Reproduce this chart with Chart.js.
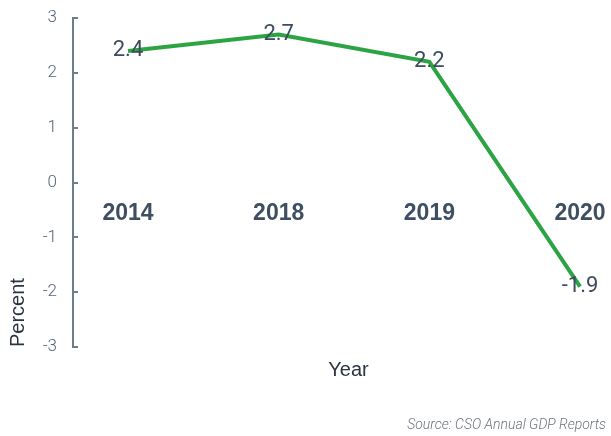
<!DOCTYPE html>
<html><head><meta charset="utf-8">
<script src="https://cdn.jsdelivr.net/npm/chart.js@4/dist/chart.umd.min.js"></script>
<style>html,body{margin:0;padding:0;background:#fff}#wrap{width:611px;height:436px}</style>
</head><body><div id="wrap"><canvas id="c" width="611" height="436"></canvas></div>
<script>
const years = ['2014', '2018', '2019', '2020'];
const growth = [2.4, 2.7, 2.2, -1.9];
const yTicks = [-3, -2, -1, 0, 1, 2, 3];
const xTitle = 'Year';
const yTitle = 'Percent';
const source = 'Source: CSO Annual GDP Reports';

const points = years.map((y, i) => ({x: i, y: growth[i]}));
const XMIN = -0.365, XMAX = 3.172;

const valueLabels = {
  id: 'valueLabels',
  afterDatasetsDraw(chart) {
    const ctx = chart.ctx;
    const meta = chart.getDatasetMeta(0);
    ctx.save();
    ctx.font = '400 22px Roboto, "Liberation Sans", sans-serif';
    ctx.fillStyle = '#3d4b5c';
    ctx.textAlign = 'center';
    ctx.textBaseline = 'middle';
    meta.data.forEach((el, i) => {
      ctx.fillText(String(growth[i]), el.x, el.y);
    });
    // x-axis title, placed slightly right of the plot centre as in the reference
    const ca = chart.chartArea;
    ctx.font = '400 20px "Liberation Sans Narrow", "Liberation Sans", sans-serif';
    ctx.fillStyle = '#2c3440';
    ctx.fillText(xTitle, (ca.left + ca.right) / 2 + 9, ca.bottom + 23);
    ctx.restore();
  }
};

new Chart(document.getElementById('c'), {
  type: 'line',
  data: {
    datasets: [{
      data: points,
      borderColor: '#2ca444',
      borderWidth: 4,
      pointRadius: 0,
      tension: 0,
      fill: false,
      xAxisID: 'x',
      yAxisID: 'y'
    }]
  },
  options: {
    responsive: false,
    animation: false,
    layout: {padding: {top: 18, right: 5, bottom: 2.6, left: 0}},
    plugins: {
      legend: {display: false},
      tooltip: {enabled: false},
      title: {
        display: true,
        text: source,
        position: 'bottom',
        align: 'end',
        color: '#6b737c',
        font: {family: 'Roboto, "Liberation Sans", sans-serif', size: 14, style: 'italic', weight: 300},
        padding: {top: 0, bottom: 0}
      }
    },
    scales: {
      x: {
        type: 'linear',
        position: 'bottom',
        min: XMIN, max: XMAX,
        grid: {display: false, drawTicks: false},
        border: {display: false},
        ticks: {display: false},
        title: {display: false},
        afterFit(s) { s.height = 69.6; s.paddingLeft = 0; s.paddingRight = 0; }
      },
      x2: {
        type: 'linear',
        position: {y: 0},
        min: XMIN, max: XMAX,
        grid: {display: false, drawTicks: false},
        border: {display: false},
        ticks: {
          stepSize: 1,
          includeBounds: false,
          autoSkip: false,
          maxRotation: 0,
          padding: 17,
          color: '#3d4f61',
          font: {family: '"Liberation Sans", Arial, sans-serif', size: 23, weight: 'bold'},
          callback: (v) => (Number.isInteger(v) && years[v] !== undefined) ? years[v] : ''
        },
        afterFit(s) { s.height = 0; s.paddingLeft = 0; s.paddingRight = 0; }
      },
      y: {
        type: 'linear',
        position: 'left',
        min: -3, max: 3,
        afterBuildTicks(s) { s.ticks = yTicks.map(v => ({value: v})); },
        grid: {display: true, drawOnChartArea: false, drawTicks: true, tickLength: -5, color: '#6e7d8c', lineWidth: 2},
        border: {display: true, color: '#6e7d8c', width: 2},
        ticks: {
          padding: 21,
          color: '#56667a',
          font: {family: 'Roboto, "Liberation Sans", sans-serif', size: 17, weight: 300}
        },
        title: {
          display: true, text: yTitle, align: 'start', color: '#2c3440',
          font: {family: '"Liberation Sans Narrow", "Liberation Sans", sans-serif', size: 20, weight: 400},
          padding: {top: 6, bottom: 0}
        },
        afterFit(s) { s.width = 73; s.paddingTop = 0; s.paddingBottom = 0; }
      }
    }
  },
  plugins: [valueLabels]
});
</script></body></html>
